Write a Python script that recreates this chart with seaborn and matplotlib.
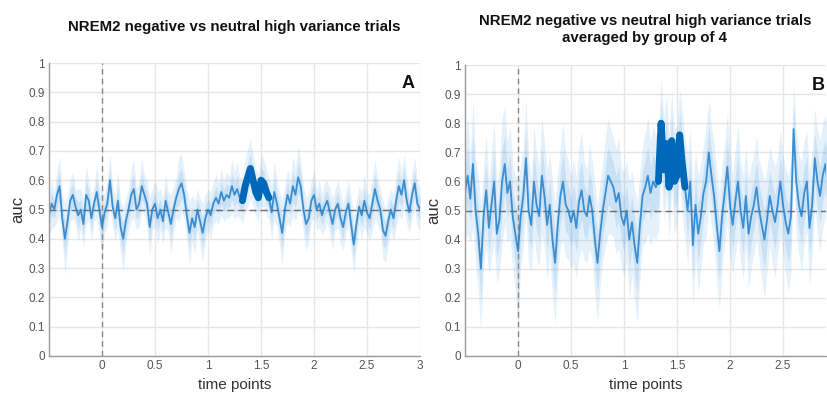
import numpy as np
import pandas as pd
import matplotlib
matplotlib.use("Agg")
import matplotlib.pyplot as plt
import seaborn as sns

# ---------------- data ----------------
t_start = -0.5
t_step = 0.025

auc_a = [0.48, 0.52, 0.50, 0.55, 0.58, 0.47, 0.40, 0.46, 0.53, 0.55,
         0.51, 0.48, 0.50, 0.45, 0.55, 0.53, 0.47, 0.52, 0.56, 0.50,
         0.44, 0.49, 0.52, 0.60, 0.51, 0.47, 0.53, 0.44, 0.40, 0.46,
         0.50, 0.55, 0.57, 0.50, 0.52, 0.58, 0.55, 0.52, 0.44, 0.50,
         0.52, 0.47, 0.50, 0.46, 0.53, 0.49, 0.45, 0.50, 0.54, 0.57,
         0.59, 0.55, 0.48, 0.42, 0.47, 0.44, 0.50, 0.46, 0.42, 0.47,
         0.50, 0.48, 0.52, 0.54, 0.52, 0.56, 0.53, 0.55, 0.54, 0.58,
         0.55, 0.57, 0.54, 0.53, 0.58, 0.61, 0.64, 0.60, 0.56, 0.54,
         0.60, 0.59, 0.56, 0.54, 0.49, 0.56, 0.52, 0.47, 0.42, 0.50,
         0.55, 0.52, 0.58, 0.55, 0.61, 0.58, 0.50, 0.45, 0.47, 0.53,
         0.55, 0.50, 0.52, 0.48, 0.51, 0.53, 0.49, 0.45, 0.50, 0.52,
         0.47, 0.44, 0.49, 0.52, 0.45, 0.38, 0.45, 0.51, 0.48, 0.53,
         0.49, 0.47, 0.52, 0.57, 0.53, 0.50, 0.43, 0.41, 0.46, 0.50,
         0.47, 0.53, 0.58, 0.55, 0.60, 0.53, 0.49, 0.55, 0.59, 0.52,
         0.50]

err_a = [0.07, 0.08, 0.06, 0.09, 0.10, 0.08, 0.12, 0.09, 0.07, 0.08,
         0.06, 0.09, 0.07, 0.08, 0.10, 0.07, 0.08, 0.06, 0.09, 0.08,
         0.11, 0.07, 0.08, 0.09, 0.07, 0.08, 0.10, 0.09, 0.11, 0.08,
         0.07, 0.09, 0.10, 0.07, 0.08, 0.09, 0.07, 0.08, 0.10, 0.07,
         0.08, 0.09, 0.07, 0.08, 0.09, 0.07, 0.10, 0.08, 0.07, 0.11,
         0.10, 0.08, 0.09, 0.11, 0.08, 0.09, 0.07, 0.08, 0.10, 0.08,
         0.07, 0.08, 0.07, 0.08, 0.07, 0.08, 0.07, 0.08, 0.07, 0.09,
         0.08, 0.09, 0.07, 0.08, 0.09, 0.10, 0.10, 0.09, 0.08, 0.08,
         0.09, 0.08, 0.08, 0.07, 0.09, 0.10, 0.08, 0.09, 0.11, 0.08,
         0.09, 0.08, 0.10, 0.09, 0.11, 0.09, 0.08, 0.09, 0.08, 0.07,
         0.08, 0.07, 0.08, 0.07, 0.08, 0.07, 0.08, 0.09, 0.07, 0.08,
         0.09, 0.08, 0.07, 0.08, 0.09, 0.10, 0.08, 0.07, 0.08, 0.09,
         0.07, 0.08, 0.09, 0.10, 0.08, 0.07, 0.10, 0.09, 0.08, 0.07,
         0.08, 0.09, 0.10, 0.08, 0.09, 0.08, 0.07, 0.08, 0.09, 0.08,
         0.07]

auc_b = [0.56, 0.62, 0.54, 0.66, 0.50, 0.42, 0.30, 0.48, 0.57, 0.44,
         0.52, 0.60, 0.42, 0.47, 0.60, 0.66, 0.56, 0.60, 0.48, 0.42,
         0.36, 0.48, 0.55, 0.68, 0.50, 0.45, 0.60, 0.52, 0.48, 0.62,
         0.55, 0.45, 0.52, 0.40, 0.32, 0.45, 0.55, 0.60, 0.52, 0.50,
         0.46, 0.50, 0.44, 0.53, 0.57, 0.50, 0.48, 0.55, 0.50, 0.40,
         0.32, 0.42, 0.50, 0.56, 0.62, 0.60, 0.58, 0.53, 0.56, 0.48,
         0.45, 0.50, 0.40, 0.46, 0.38, 0.32, 0.45, 0.55, 0.58, 0.62,
         0.56, 0.60, 0.58, 0.60, 0.80, 0.64, 0.73, 0.58, 0.74, 0.60,
         0.62, 0.76, 0.66, 0.58, 0.50, 0.60, 0.38, 0.52, 0.42, 0.48,
         0.56, 0.60, 0.70, 0.62, 0.55, 0.45, 0.36, 0.48, 0.56, 0.65,
         0.52, 0.45, 0.53, 0.60, 0.50, 0.44, 0.55, 0.42, 0.48, 0.52,
         0.58, 0.50, 0.45, 0.40, 0.47, 0.55, 0.50, 0.46, 0.52, 0.60,
         0.52, 0.46, 0.42, 0.48, 0.78, 0.60, 0.52, 0.48, 0.56, 0.60,
         0.44, 0.52, 0.68, 0.60, 0.55, 0.62, 0.66, 0.58, 0.52, 0.60,
         0.56]

err_b = [0.16, 0.20, 0.15, 0.22, 0.18, 0.20, 0.22, 0.17, 0.19, 0.16,
         0.18, 0.21, 0.17, 0.18, 0.22, 0.20, 0.17, 0.19, 0.18, 0.20,
         0.24, 0.18, 0.17, 0.20, 0.18, 0.16, 0.19, 0.18, 0.17, 0.20,
         0.18, 0.19, 0.17, 0.20, 0.21, 0.18, 0.17, 0.20, 0.18, 0.17,
         0.16, 0.18, 0.17, 0.19, 0.20, 0.17, 0.16, 0.18, 0.17, 0.19,
         0.20, 0.18, 0.17, 0.19, 0.20, 0.18, 0.17, 0.18, 0.19, 0.17,
         0.18, 0.17, 0.20, 0.18, 0.19, 0.21, 0.18, 0.17, 0.19, 0.20,
         0.18, 0.19, 0.18, 0.17, 0.16, 0.18, 0.17, 0.18, 0.17, 0.18,
         0.17, 0.16, 0.18, 0.17, 0.19, 0.18, 0.21, 0.18, 0.20, 0.18,
         0.17, 0.19, 0.18, 0.17, 0.18, 0.19, 0.20, 0.18, 0.17, 0.19,
         0.18, 0.17, 0.18, 0.19, 0.17, 0.18, 0.17, 0.19, 0.18, 0.17,
         0.18, 0.17, 0.19, 0.20, 0.18, 0.17, 0.18, 0.19, 0.17, 0.18,
         0.17, 0.18, 0.20, 0.19, 0.16, 0.18, 0.17, 0.19, 0.18, 0.17,
         0.20, 0.18, 0.17, 0.18, 0.19, 0.18, 0.17, 0.18, 0.19, 0.18,
         0.18]

sig_a = (1.325, 1.575)
sig_b = (1.325, 1.575)

titles = ["NREM2 negative vs neutral high variance trials",
          "NREM2 negative vs neutral high variance trials\naveraged by group of 4"]
panel_labels = ["A", "B"]
xticks = [0, 0.5, 1, 1.5, 2, 2.5, 3]
xtick_labels = ["0", "0.5", "1", "1.5", "2", "2.5", "3"]
yticks = [0, 0.1, 0.2, 0.3, 0.4, 0.5, 0.6, 0.7, 0.8, 0.9, 1]
ytick_labels = ["0", "0.1", "0.2", "0.3", "0.4", "0.5", "0.6", "0.7", "0.8", "0.9", "1"]

# ---------------- style ----------------
sns.set_theme(style="white")
plt.rcParams['font.family'] = ['Liberation Sans', 'DejaVu Sans']

line_color = "#2a84cc"
sig_color = "#0068b8"
fill_color = "#4a9be0"
tick_color = "#555555"

PX_PER_UNIT = 106.0
fig = plt.figure(figsize=(8.27, 4.04), dpi=100)
ax_a = fig.add_axes([49 / 827, 1 - 356 / 404, 371 / 827, 293 / 404])
b_right_px = 826
ax_b = fig.add_axes([465 / 827, 1 - 356 / 404, (b_right_px - 465) / 827, 291 / 404])
b_xmax = -0.5 + (b_right_px - 465) / PX_PER_UNIT


def label_x(ax):
    return (408 - 49) / 371 if ax is ax_a else (818 - 465) / (b_right_px - 465)


def draw(ax, auc, err, sig, title, label, title_x, title_y, xmax):
    n = len(auc)
    t = t_start + t_step * np.arange(n)
    df = pd.DataFrame({"time": t, "auc": auc, "err": err})
    lo = df["auc"] - df["err"]
    hi = df["auc"] + df["err"]
    ax.fill_between(df["time"], lo, hi, color=fill_color, alpha=0.15, linewidth=0)
    ax.fill_between(df["time"], df["auc"] - 0.5 * df["err"], df["auc"] + 0.5 * df["err"],
                    color=fill_color, alpha=0.17, linewidth=0)
    sns.lineplot(data=df, x="time", y="auc", ax=ax, color=line_color, linewidth=1.3,
                 alpha=0.9)
    sdf = df[(df["time"] >= sig[0] - 1e-9) & (df["time"] <= sig[1] + 1e-9)]
    sns.lineplot(data=sdf, x="time", y="auc", ax=ax, color=sig_color, linewidth=5.0,
                 solid_capstyle="round", solid_joinstyle="round")
    ax.axhline(0.5, color="#555555", linestyle=(0, (5, 3)), linewidth=1.0, alpha=0.8, zorder=1)
    ax.axvline(0, color="#8a8a8a", linestyle=(0, (4, 3)), linewidth=1.0, zorder=1)

    ax.set_xticks(xticks)
    ax.set_xticklabels(xtick_labels)
    ax.set_yticks(yticks)
    ax.set_yticklabels(ytick_labels)
    ax.set_xlim(-0.5, xmax)
    ax.set_ylim(0, 1)
    ax.grid(True, color="#e6e6e6", linewidth=1.0)
    ax.set_axisbelow(True)
    for s in ["top", "right"]:
        ax.spines[s].set_visible(False)
    for s in ["left", "bottom"]:
        ax.spines[s].set_color("#9a9a9a")
        ax.spines[s].set_linewidth(1.0)
    ax.tick_params(axis="both", colors=tick_color, labelsize=8.5, length=2, pad=3,
                   direction="in", width=0.8)
    ax.set_xlabel("time points", fontsize=11, color="#333333", labelpad=4)
    ax.set_ylabel("auc", fontsize=12, color="#333333", labelpad=2)
    ax.text(title_x, title_y, title, transform=ax.transAxes, ha="center", va="bottom",
            fontsize=10.8, fontweight="bold", color="#111111", linespacing=1.25)
    ax.text(label_x(ax), 0.93, label, transform=ax.transAxes, ha="center", va="center",
            fontsize=13, fontweight="bold", color="#111111")


draw(ax_a, auc_a, err_a, sig_a, titles[0], panel_labels[0], 0.5, 1.10, 3.0)
draw(ax_b, auc_b, err_b, sig_b, titles[1], panel_labels[1],
     (645 - 465) / (b_right_px - 465), 1.07, b_xmax)

fig.savefig("out.png", dpi=100)
